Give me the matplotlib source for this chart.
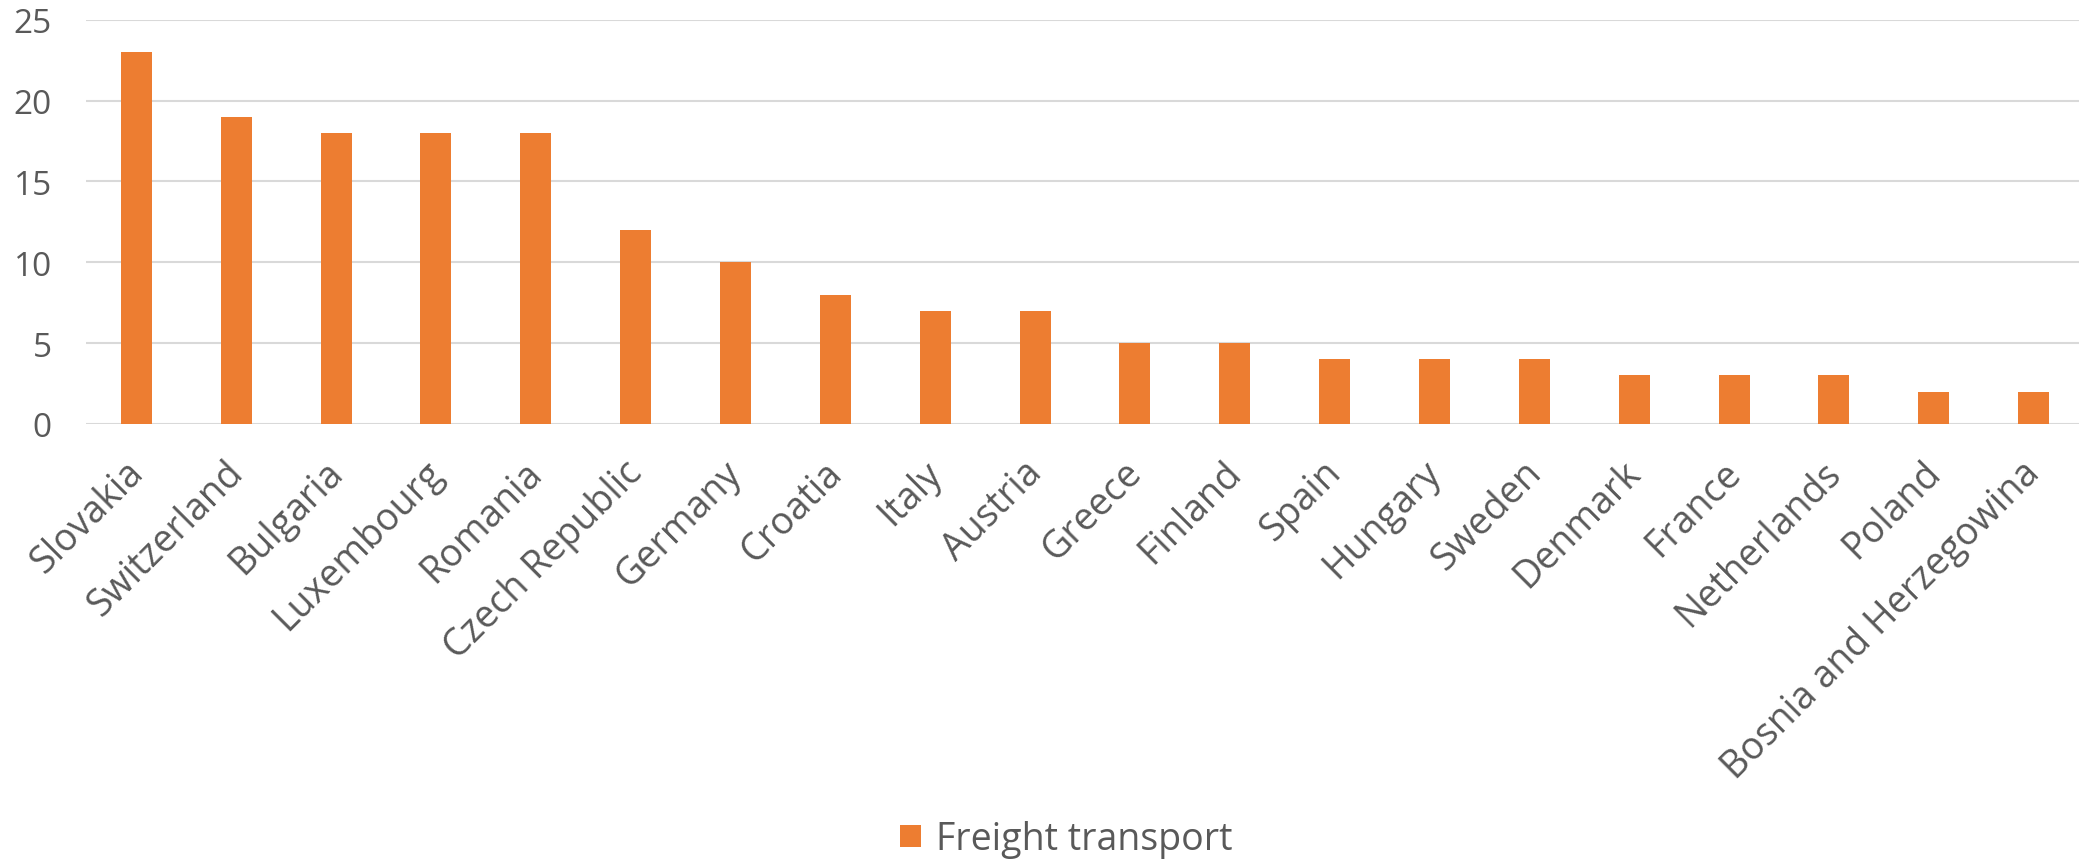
import matplotlib.pyplot as plt
import matplotlib.transforms as mtransforms
import numpy as np

countries = ["Slovakia", "Switzerland", "Bulgaria", "Luxembourg", "Romania",
             "Czech Republic", "Germany", "Croatia", "Italy", "Austria",
             "Greece", "Finland", "Spain", "Hungary", "Sweden", "Denmark",
             "France", "Netherlands", "Poland", "Bosnia and Herzegowina"]
freight = [23, 19, 18, 18, 18, 12, 10, 8, 7, 7, 5, 5, 4, 4, 4, 3, 3, 3, 2, 2]
yticks = [0, 5, 10, 15, 20, 25]

plt.rcParams['font.family'] = ['Open Sans', 'DejaVu Sans']
text_color = '#595959'
bar_color = '#ED7D31'

fig = plt.figure(figsize=(20.79, 8.62), dpi=100)
ax = fig.add_axes([0.0416, 0.507, 0.9606, 0.469])

x = np.arange(len(countries))
ax.bar(x, freight, width=0.31, color=bar_color, label='Freight transport', zorder=3)

ax.set_xlim(-0.5, len(countries) - 0.5)
ax.set_ylim(0, 25)
ax.set_yticks(yticks)
ax.yaxis.grid(True, color='#d9d9d9', linewidth=1.5, zorder=0)
for s in ax.spines.values():
    s.set_visible(False)
ax.tick_params(axis='both', length=0, colors=text_color)
ax.tick_params(axis='y', pad=25, labelsize=24)
ax.tick_params(axis='x', pad=21, labelsize=27)
ax.set_xticks(x)
ax.set_xticklabels(countries, rotation=45, ha='right', rotation_mode='anchor')

# nudge the rotated labels a little to the left
shift = mtransforms.ScaledTranslation(-9 / 72, 0, fig.dpi_scale_trans)
for lbl in ax.get_xticklabels():
    lbl.set_transform(lbl.get_transform() + shift)

fig.legend(loc='center', bbox_to_anchor=(0.513, 0.025), frameon=False,
           fontsize=27, handlelength=0.55, handleheight=0.55, handletextpad=0.4,
           labelcolor=text_color)

fig.savefig('out.png', dpi=100)
